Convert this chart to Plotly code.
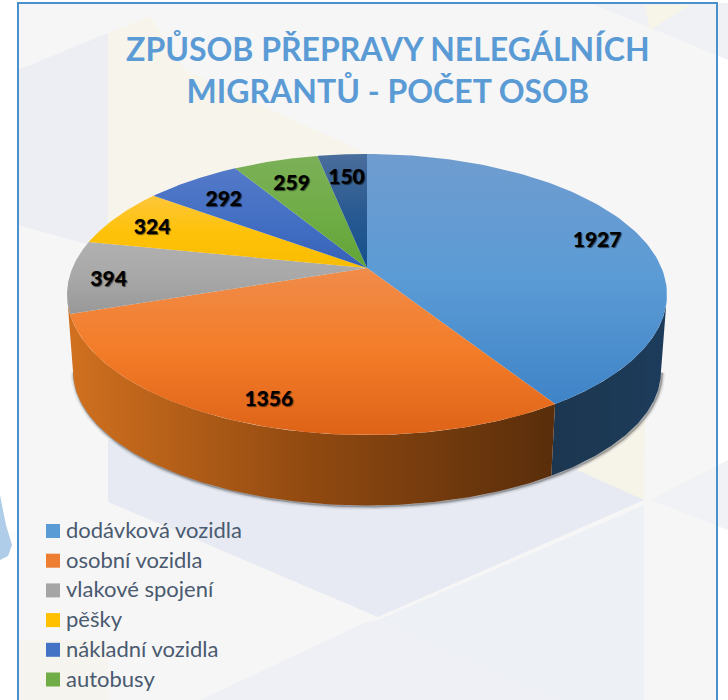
import numpy as np
import plotly.graph_objects as go

# ---- data ----
categories = ["dodávková vozidla", "osobní vozidla", "vlakové spojení", "pěšky",
              "nákladní vozidla", "autobusy", ""]
values = [1927, 1356, 394, 324, 292, 259, 150]
title_lines = ["ZPŮSOB PŘEPRAVY NELEGÁLNÍCH", "MIGRANTŮ - POČET OSOB"]

# ---- style ----
top_grad = [("#6F9CCF", "#5B9BD5", "#3F84C8"), ("#F08C4A", "#F37C28", "#DE6318"),
            ("#B0B0B0", "#A8A8A8", "#989898"), ("#FDC63A", "#FFC20A", "#F8BC00"),
            ("#5479C8", "#4470C4", "#3562B8"), ("#7CB058", "#70AD47", "#62A435"),
            ("#4A6E9C", "#2A5A92", "#14508C")]
legend_colors = ["#5B9BD5", "#ED7D31", "#A5A5A5", "#FFC000", "#4472C4", "#70AD47"]
label_r = [.85, .85, .87, .85, .8, .8, .8]
LABEL_DY = 5.0
CX, CY, RX, RY, K = 367.0, 268.0, 294.6, 135.5, 0.1886
SX, SY, Y0 = 0.98, 0.955, 346.0   # bottom rim of the disc
EDGE_R, EDGE_L = 101.0, 259.0     # silhouette angles


def proj(theta_deg, r=1.0):
    t = np.radians(theta_deg)
    X, Y = r * np.sin(t), r * np.cos(t)
    d = 1 + K * Y
    return CX + RX * X / d, CY - RY * Y / d


def proj_bottom(theta_deg):
    x, y = proj(theta_deg)
    return CX + SX * (x - CX), Y0 + SY * (y - CY)


total = sum(values)
cum = np.cumsum([0] + values) / total * 360.0

fig = go.Figure()

# ---- faint backdrop ----
bg = [
    ("#ECEEF4", [(18, 70), (108, 33), (108, 250), (18, 225)]),
    ("#F7F4EC", [(108, 33), (150, 16), (185, 70), (370, 155), (108, 250)]),
    ("#E7EAF2", [(108, 440), (640, 470), (644, 500), (378, 617), (108, 502)]),
    ("#EDF0F4", [(378, 620), (644, 505), (644, 700), (560, 700)]),
    ("#EEF0F5", [(200, 700), (364, 623), (378, 620), (560, 700)]),
    ("#F6F3E9", [(577, 470), (644, 500), (645, 420)]),
    ("#F0F2F5", [(650, 500), (728, 460), (728, 530)]),
    ("#EFF1F5", [(590, 3), (728, 60), (728, 3)]),
    ("#F7F5E8", [(645, 5), (690, 5), (650, 30)]),
    ("#F5F4EE", [(18, 640), (108, 640), (108, 700), (18, 700)]),
]
shapes = [dict(type="rect", x0=18, x1=717, y0=3, y1=720, xref="x", yref="y",
               fillcolor="#F6F6F6", line=dict(width=0), layer="below")]
for col, pts in bg:
    path = "M" + " L".join(f"{a},{b}" for a, b in pts) + " Z"
    shapes.append(dict(type="path", path=path, xref="x", yref="y", fillcolor=col,
                       line=dict(width=0), layer="below"))
shapes.append(dict(type="path", path="M0,495 L6,525 L12,545 L8,556 L0,560 Z", xref="x", yref="y",
                   fillcolor="#AFCDE8", line=dict(width=0), layer="below"))
shapes.append(dict(type="rect", x0=18, x1=717, y0=3, y1=720, xref="x", yref="y",
                   fillcolor="rgba(0,0,0,0)", line=dict(color="#4A90CC", width=2), layer="below"))


def grad(c0, c1, c2, kind, a, b):
    return dict(type=kind, start=a, stop=b,
                colorscale=[[0, c0], [0.5, c1], [1, c2]])


# ---- soft shadow under the wall ----
th_all = np.linspace(EDGE_R, EDGE_L, 200)
bx, by = proj_bottom(th_all)
for w, op in [(7, .07), (4, .14), (2, .28)]:
    fig.add_trace(go.Scatter(x=bx + 1, y=by + 1, mode="lines", hoverinfo="skip", showlegend=False,
                             line=dict(color=f"rgba(40,40,40,{op})", width=w)))

# ---- side walls of the two front slices ----
wall_spec = [
    (EDGE_R, cum[1], ("#1C3650", "#1C3954", "#1D3C5C"), 550, 665),
    (cum[1], EDGE_L, ("#D0701F", "#904910", "#5A2E0B"), 72, 550),
]
for a, b, cs, lo, hi in wall_spec:
    th = np.linspace(a, b, 120)
    tx, ty = proj(th)
    bx, by = proj_bottom(th)
    xs = np.concatenate([tx, bx[::-1]])
    ys = np.concatenate([ty, by[::-1]])
    fig.add_trace(go.Scatter(x=xs, y=ys, mode="lines", fill="toself", hoverinfo="skip",
                             showlegend=False, line=dict(width=0),
                             fillgradient=grad(*cs, "horizontal", lo, hi)))

# ---- top faces ----
for i, v in enumerate(values):
    th = np.linspace(cum[i], cum[i + 1], 100)
    x, y = proj(th)
    xs = np.concatenate([[CX], x, [CX]])
    ys = np.concatenate([[CY], y, [CY]])
    c0, c1, c2 = top_grad[i]
    fig.add_trace(go.Scatter(x=xs, y=ys, mode="lines", fill="toself", name=categories[i],
                             showlegend=False, hoverinfo="skip", line=dict(width=0),
                             fillgradient=grad(c0, c1, c2, "vertical", ys.min(), ys.max())))

# ---- value labels ----
mids = (cum[:-1] + cum[1:]) / 2
lx, ly = [], []
for m, r in zip(mids, label_r):
    a, b = proj(m, r)
    lx.append(a)
    ly.append(b + LABEL_DY)
fig.add_trace(go.Scatter(x=lx, y=ly, mode="text", text=[str(v) for v in values], showlegend=False,
                         hoverinfo="skip", textposition="middle center",
                         textfont=dict(family="Lato", size=21, color="#000000", weight=900,
                                       shadow="1px 1px 1px rgba(0,0,0,.6)")))

# ---- legend ----
leg_y = [531 + 29.7 * i for i in range(6)]
fig.add_trace(go.Scatter(x=[53] * 6, y=leg_y, mode="markers", showlegend=False, hoverinfo="skip",
                         marker=dict(symbol="square", size=14, color=legend_colors, line=dict(width=0))))
fig.add_trace(go.Scatter(x=[66] * 6, y=[v + 1.5 for v in leg_y], mode="text", text=categories[:6],
                         showlegend=False, hoverinfo="skip", textposition="middle right",
                         textfont=dict(family="Lato", size=22, color="#4A5A70")))

fig.update_layout(
    width=728, height=700, margin=dict(l=0, r=0, t=0, b=0),
    paper_bgcolor="#FFFFFF", plot_bgcolor="rgba(0,0,0,0)", shapes=shapes,
    xaxis=dict(range=[0, 728], visible=False, fixedrange=True),
    yaxis=dict(range=[700, 0], visible=False, fixedrange=True),
    annotations=[dict(text="<br>".join(title_lines), x=388, y=69.5, xref="x", yref="y", showarrow=False,
                      xanchor="center", yanchor="middle", align="center",
                      font=dict(family="Lato", size=32, color="#5B9BD5", weight=700))],
    showlegend=False,
)
fig.write_html("out.html", config=dict(displayModeBar=False),
               post_script="document.body.style.margin='0';document.body.style.overflow='hidden';")
